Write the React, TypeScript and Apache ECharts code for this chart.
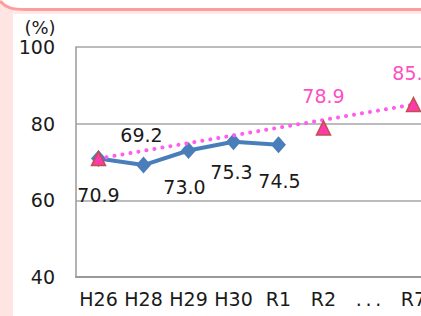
import React, { useEffect, useRef } from "react";
import * as echarts from "echarts";

const categories = ["H26", "H28", "H29", "H30", "R1", "R2", ".\u2009.\u2009.", "R7"];
const actualValues: (number | null)[] = [70.9, 69.2, 73.0, 75.3, 74.5, null, null, null];
const targetValues: (number | null)[] = [70.9, null, null, null, null, 78.9, null, 85.0];
const trendValues: (number | null)[] = [70.9, null, null, null, null, null, null, 85.0];
const yTicks = { min: 40, max: 100, interval: 20 };

// label offsets (style only) for the actual series
const actualLabelOffsets: [number, number][] = [
  [0, 36],
  [-2, -30],
  [-4, 36],
  [-2, 30],
  [1, 36],
];

const FONT = "DejaVu Sans";

export default function App() {
  const ref = useRef<HTMLDivElement>(null);
  useEffect(() => {
    if (!ref.current) return;
    const chart = echarts.init(ref.current, undefined, { renderer: "svg" });
    const actualData = actualValues.map((v, i) =>
      v == null
        ? "-"
        : {
            value: v,
            label: {
              show: true,
              position: "inside",
              offset: actualLabelOffsets[i],
              formatter: (p: any) => Number(p.value).toFixed(1),
              color: "#1a1a1a",
              fontSize: 19,
              fontFamily: FONT,
            },
          }
    );
    const targetData = targetValues.map((v, i) =>
      v == null
        ? "-"
        : {
            value: v,
            label: {
              show: i !== 0,
              position: "inside",
              offset: [0, -32],
              formatter: (p: any) => Number(p.value).toFixed(1),
              color: "#ff4fc4",
              fontSize: 19,
              fontFamily: FONT,
            },
          }
    );
    chart.setOption({
      animation: false,
      backgroundColor: "#ffffff",
      textStyle: { fontFamily: FONT },
      graphic: [
        {
          type: "polygon",
          shape: {
            points: [
              [0, 2],
              [6, 5.5],
              [13, 8],
              [13, 316],
              [0, 316],
            ],
          },
          style: { fill: "#ffe4e4" },
        },
        {
          type: "rect",
          shape: { x: 13, y: 10, width: 437, height: 4 },
          style: { fill: "#ffeaea" },
        },
        {
          type: "bezierCurve",
          shape: { x1: 0, y1: 1, cpx1: 6, cpy1: 8, cpx2: 12, cpy2: 9.5, x2: 26, y2: 9.5 },
          style: { stroke: "#ff9c9c", lineWidth: 3, fill: null },
        },
        {
          type: "line",
          shape: { x1: 25, y1: 9.5, x2: 450, y2: 9.5 },
          style: { stroke: "#ff9c9c", lineWidth: 3 },
        },
        {
          type: "text",
          x: 40,
          y: 27,
          style: {
            text: "(%)",
            fontSize: 18,
            fontFamily: FONT,
            fill: "#1a1a1a",
            align: "center",
            verticalAlign: "middle",
          },
        },
      ],
      grid: { left: 76, top: 47, width: 360, height: 230, containLabel: false },
      xAxis: {
        type: "category",
        data: categories,
        boundaryGap: true,
        axisLine: { show: true, lineStyle: { color: "#999999", width: 2 } },
        axisTick: { show: false },
        axisLabel: {
          color: "#1a1a1a",
          fontSize: 19,
          fontFamily: FONT,
          margin: 12,
          interval: 0,
        },
        splitLine: { show: false },
      },
      yAxis: {
        type: "value",
        min: yTicks.min,
        max: yTicks.max,
        interval: yTicks.interval,
        axisLine: { show: true, lineStyle: { color: "#999999", width: 1.5 } },
        axisTick: { show: false },
        axisLabel: {
          color: "#1a1a1a",
          fontSize: 19,
          fontFamily: FONT,
          margin: 21,
        },
        splitLine: { show: true, lineStyle: { color: "#a6a6a6", width: 1.5 } },
      },
      series: [
        {
          name: "actual",
          type: "line",
          data: actualData,
          symbol: "diamond",
          symbolSize: [15, 17],
          itemStyle: { color: "#4a7ebb" },
          lineStyle: { color: "#4a7ebb", width: 4 },
          z: 2,
        },
        {
          name: "trend",
          type: "line",
          data: trendValues.map((v) => (v == null ? "-" : v)),
          connectNulls: true,
          symbol: "none",
          lineStyle: { color: "#ff5cf0", width: 4, type: [0.1, 8], cap: "round" },
          z: 3,
        },
        {
          name: "target",
          type: "line",
          data: targetData,
          symbol: "triangle",
          symbolSize: [14, 14],
          lineStyle: { width: 0, opacity: 0 },
          itemStyle: { color: "#ff3aaa", borderColor: "#c0504d", borderWidth: 1.5 },
          z: 4,
        },
      ],
    });
    return () => chart.dispose();
  }, []);
  return (
    <div
      ref={ref}
      style={{ position: "fixed", left: 0, top: 0, width: 450, height: 316 }}
    />
  );
}
